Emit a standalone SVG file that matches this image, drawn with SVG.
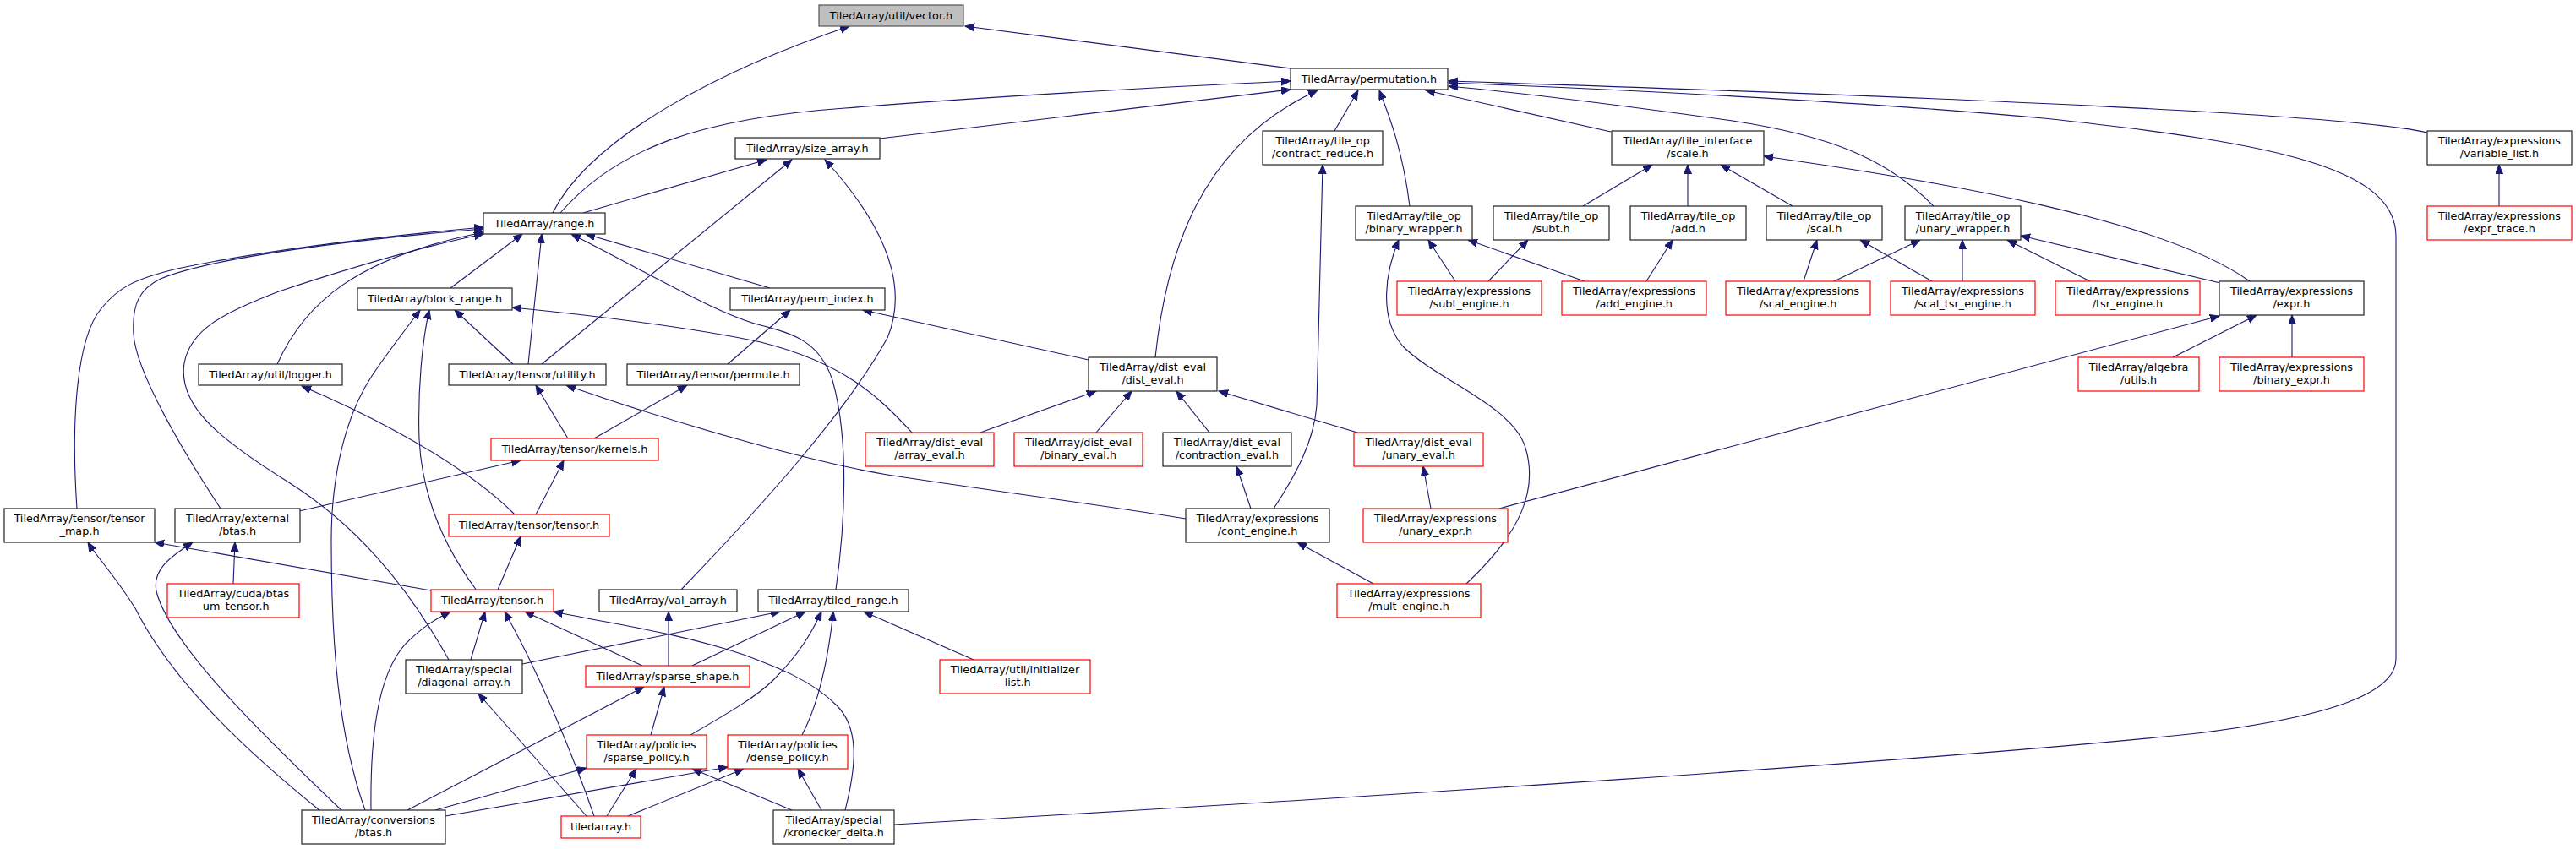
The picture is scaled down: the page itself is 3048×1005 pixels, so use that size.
<svg xmlns="http://www.w3.org/2000/svg" width="3048" height="1005" viewBox="0 0 3048 1005">
<style>
.n rect{fill:#fff;stroke:#222;stroke-width:1.2}
.n.r rect{stroke:#ff0000}
.n.g rect{fill:#bfbfbf;stroke:#555}
.n text{font-family:"DejaVu Sans",sans-serif;font-size:12.8px;fill:#000;text-anchor:middle}
.e path{fill:none;stroke:#191970;stroke-width:1.1;marker-end:url(#ah)}
</style>
<defs>
<marker id="ah" viewBox="0 0 12 10" markerWidth="12" markerHeight="10" refX="11" refY="4.5" orient="auto" markerUnits="userSpaceOnUse"><path d="M0,0 L11,4.5 L0,9 z" fill="#191970" stroke="#191970" stroke-width="1"/></marker>
</defs>
<rect width="3048" height="1005" fill="#fff"/>
<g id="edges" class="e">
<path d="M654,252 C700,160 860,80 1005,31"/>
<path d="M1527,81 L1142,31"/>
<path d="M663,252 C730,175 830,140 1000,128 C1200,112 1400,102 1527,96"/>
<path d="M1041,164 L1527,106"/>
<path d="M690,252 L907,189"/>
<path d="M1367,423 C1380,300 1420,170 1559,107"/>
<path d="M1579,155 L1607,107"/>
<path d="M1668,244 C1660,180 1645,140 1632,107"/>
<path d="M1906,156 L1687,107"/>
<path d="M2288,244 C2230,185 2160,160 2050,143 C1900,122 1800,110 1714,102"/>
<path d="M2872,157 C2780,135 2300,115 1714,96"/>
<path d="M1058,976 C1600,945 2300,900 2600,868 C2760,848 2835,820 2835,780 L2835,280 C2835,200 2700,170 2418,140 C2200,120 1900,105 1714,98"/>
<path d="M2957,244 L2957,195"/>
<path d="M1873,244 L1955,195"/>
<path d="M1997,244 L1997,195"/>
<path d="M2121,244 L2036,195"/>
<path d="M2662,333 C2560,260 2300,215 2087,185"/>
<path d="M1722,333 L1690,284"/>
<path d="M1761,333 L1808,284"/>
<path d="M1875,333 L1737,284"/>
<path d="M1948,333 L1979,284"/>
<path d="M1735,691 C1800,630 1820,580 1805,530 C1790,480 1700,450 1660,410 C1630,375 1640,320 1655,284"/>
<path d="M2170,333 L2272,284"/>
<path d="M2134,333 L2150,284"/>
<path d="M2286,333 L2201,284"/>
<path d="M2322,333 L2322,284"/>
<path d="M2473,333 L2375,284"/>
<path d="M2627,335 L2391,279"/>
<path d="M2571,423 L2670,373"/>
<path d="M2712,423 L2712,373"/>
<path d="M1774,602 L2626,374"/>
<path d="M1507,602 C1535,560 1555,520 1558,480 L1565,195"/>
<path d="M1480,602 L1463,552"/>
<path d="M1625,691 L1535,642"/>
<path d="M1160,512 L1297,463"/>
<path d="M1297,512 L1339,463"/>
<path d="M1431,512 L1392,463"/>
<path d="M1606,512 L1442,463"/>
<path d="M1693,602 L1684,552"/>
<path d="M1288,426 L1021,367"/>
<path d="M861,431 L935,367"/>
<path d="M911,341 L693,277"/>
<path d="M533,341 L618,277"/>
<path d="M625,431 L641,277"/>
<path d="M989,698 C1000,620 1005,520 985,450 C970,405 940,395 900,385 C850,372 780,330 676,277"/>
<path d="M328,431 C360,360 420,305 572,275"/>
<path d="M91,602 C84,500 90,400 120,365 C140,340 160,330 210,318 C320,295 450,280 572,269"/>
<path d="M261,602 C220,540 160,440 158,395 C156,360 165,342 190,330 C250,305 420,283 572,271"/>
<path d="M531,781 C480,690 420,620 340,570 C260,520 210,480 218,430 C225,390 265,370 330,345 C420,315 500,292 572,277"/>
<path d="M641,431 L937,189"/>
<path d="M806,698 C900,600 1000,490 1050,400 C1075,340 1050,270 976,189"/>
<path d="M607,431 L538,367"/>
<path d="M564,699 C535,660 500,600 496,520 C494,460 500,400 508,367"/>
<path d="M432,959 C400,870 392,760 392,640 C392,560 410,490 440,445 C460,415 480,390 497,367"/>
<path d="M1080,513 C1040,470 1000,430 900,405 C820,388 700,373 606,364"/>
<path d="M672,519 L634,456"/>
<path d="M703,519 L813,456"/>
<path d="M1403,614 C1300,597 1200,585 1050,562 C950,545 780,495 670,456"/>
<path d="M634,609 L667,545"/>
<path d="M354,605 L616,545"/>
<path d="M609,609 C560,560 470,505 357,457"/>
<path d="M589,698 L616,635"/>
<path d="M510,699 L183,642"/>
<path d="M404,959 C300,860 200,760 185,700 C180,675 200,660 228,642"/>
<path d="M378,959 C280,880 200,800 160,720 C135,680 115,660 104,642"/>
<path d="M276,691 L278,642"/>
<path d="M439,959 C438,880 445,800 480,762 C500,742 515,733 533,724"/>
<path d="M557,781 L574,724"/>
<path d="M703,966 C680,900 640,800 597,724"/>
<path d="M760,788 L621,724"/>
<path d="M1000,959 C1015,900 1015,860 990,835 C960,805 920,790 880,775 C800,748 720,738 655,724"/>
<path d="M694,966 L566,821"/>
<path d="M718,966 L753,910"/>
<path d="M743,966 L880,910"/>
<path d="M482,959 L762,813"/>
<path d="M515,959 L694,909"/>
<path d="M527,966 L861,908"/>
<path d="M937,959 L819,910"/>
<path d="M972,959 L944,910"/>
<path d="M770,870 L786,813"/>
<path d="M791,788 L791,724"/>
<path d="M819,788 L953,724"/>
<path d="M618,786 L923,724"/>
<path d="M817,870 C860,845 895,825 915,805 C945,775 960,750 972,724"/>
<path d="M949,870 C970,830 980,780 986,724"/>
<path d="M1152,781 L1022,724"/>
</g>
<g id="vector" class="n g"><rect x="969" y="6" width="171" height="25"/><text x="1054.5" y="23">TiledArray/util/vector.h</text></g>
<g id="permutation" class="n"><rect x="1527" y="81" width="186" height="25"/><text x="1620" y="98">TiledArray/permutation.h</text></g>
<g id="size_array" class="n"><rect x="870" y="163" width="171" height="25"/><text x="955.5" y="180">TiledArray/size_array.h</text></g>
<g id="range" class="n"><rect x="572" y="252" width="144" height="25"/><text x="644" y="269">TiledArray/range.h</text></g>
<g id="block_range" class="n"><rect x="423" y="341" width="183" height="26"/><text x="514.5" y="358">TiledArray/block_range.h</text></g>
<g id="perm_index" class="n"><rect x="864" y="341" width="183" height="26"/><text x="955.5" y="358">TiledArray/perm_index.h</text></g>
<g id="logger" class="n"><rect x="235" y="431" width="170" height="25"/><text x="320" y="448">TiledArray/util/logger.h</text></g>
<g id="utility" class="n"><rect x="531" y="431" width="186" height="25"/><text x="624" y="448">TiledArray/tensor/utility.h</text></g>
<g id="permute" class="n"><rect x="742" y="431" width="204" height="25"/><text x="844" y="448">TiledArray/tensor/permute.h</text></g>
<g id="kernels" class="n r"><rect x="581" y="519" width="198" height="26"/><text x="680" y="536">TiledArray/tensor/kernels.h</text></g>
<g id="tensor_tensor" class="n r"><rect x="531" y="609" width="190" height="26"/><text x="626" y="626">TiledArray/tensor/tensor.h</text></g>
<g id="tensor" class="n r"><rect x="510" y="698" width="145" height="26"/><text x="582.5" y="715">TiledArray/tensor.h</text></g>
<g id="val_array" class="n"><rect x="709" y="698" width="163" height="26"/><text x="790.5" y="715">TiledArray/val_array.h</text></g>
<g id="tiled_range" class="n"><rect x="897" y="698" width="178" height="26"/><text x="986" y="715">TiledArray/tiled_range.h</text></g>
<g id="sparse_shape" class="n r"><rect x="693" y="788" width="194" height="25"/><text x="790" y="805">TiledArray/sparse_shape.h</text></g>
<g id="tiledarray" class="n r"><rect x="664" y="966" width="94" height="26"/><text x="711" y="983">tiledarray.h</text></g>
<g id="contract_reduce" class="n"><rect x="1494" y="155" width="142" height="40"/><text x="1565" y="171">TiledArray/tile_op</text><text x="1565" y="186">/contract_reduce.h</text></g>
<g id="scale" class="n"><rect x="1907" y="155" width="180" height="40"/><text x="1997" y="171">TiledArray/tile_interface</text><text x="1997" y="186">/scale.h</text></g>
<g id="variable_list" class="n"><rect x="2872" y="155" width="171" height="40"/><text x="2957.5" y="171">TiledArray/expressions</text><text x="2957.5" y="186">/variable_list.h</text></g>
<g id="binary_wrapper" class="n"><rect x="1604" y="244" width="138" height="40"/><text x="1673" y="260">TiledArray/tile_op</text><text x="1673" y="275">/binary_wrapper.h</text></g>
<g id="subt" class="n"><rect x="1767" y="244" width="137" height="40"/><text x="1835.5" y="260">TiledArray/tile_op</text><text x="1835.5" y="275">/subt.h</text></g>
<g id="add" class="n"><rect x="1929" y="244" width="137" height="40"/><text x="1997.5" y="260">TiledArray/tile_op</text><text x="1997.5" y="275">/add.h</text></g>
<g id="scal" class="n"><rect x="2090" y="244" width="137" height="40"/><text x="2158.5" y="260">TiledArray/tile_op</text><text x="2158.5" y="275">/scal.h</text></g>
<g id="unary_wrapper" class="n"><rect x="2254" y="244" width="137" height="40"/><text x="2322.5" y="260">TiledArray/tile_op</text><text x="2322.5" y="275">/unary_wrapper.h</text></g>
<g id="expr_trace" class="n r"><rect x="2872" y="244" width="171" height="40"/><text x="2957.5" y="260">TiledArray/expressions</text><text x="2957.5" y="275">/expr_trace.h</text></g>
<g id="subt_engine" class="n r"><rect x="1653" y="333" width="171" height="40"/><text x="1738.5" y="349">TiledArray/expressions</text><text x="1738.5" y="364">/subt_engine.h</text></g>
<g id="add_engine" class="n r"><rect x="1848" y="333" width="171" height="40"/><text x="1933.5" y="349">TiledArray/expressions</text><text x="1933.5" y="364">/add_engine.h</text></g>
<g id="scal_engine" class="n r"><rect x="2042" y="333" width="171" height="40"/><text x="2127.5" y="349">TiledArray/expressions</text><text x="2127.5" y="364">/scal_engine.h</text></g>
<g id="scal_tsr_engine" class="n r"><rect x="2237" y="333" width="171" height="40"/><text x="2322.5" y="349">TiledArray/expressions</text><text x="2322.5" y="364">/scal_tsr_engine.h</text></g>
<g id="tsr_engine" class="n r"><rect x="2432" y="333" width="171" height="40"/><text x="2517.5" y="349">TiledArray/expressions</text><text x="2517.5" y="364">/tsr_engine.h</text></g>
<g id="expr" class="n"><rect x="2626" y="333" width="171" height="40"/><text x="2711.5" y="349">TiledArray/expressions</text><text x="2711.5" y="364">/expr.h</text></g>
<g id="dist_eval" class="n"><rect x="1288" y="423" width="152" height="40"/><text x="1364" y="439">TiledArray/dist_eval</text><text x="1364" y="454">/dist_eval.h</text></g>
<g id="algebra_utils" class="n r"><rect x="2459" y="423" width="143" height="40"/><text x="2530.5" y="439">TiledArray/algebra</text><text x="2530.5" y="454">/utils.h</text></g>
<g id="binary_expr" class="n r"><rect x="2626" y="423" width="171" height="40"/><text x="2711.5" y="439">TiledArray/expressions</text><text x="2711.5" y="454">/binary_expr.h</text></g>
<g id="array_eval" class="n r"><rect x="1024" y="512" width="152" height="40"/><text x="1100" y="528">TiledArray/dist_eval</text><text x="1100" y="543">/array_eval.h</text></g>
<g id="binary_eval" class="n r"><rect x="1200" y="512" width="152" height="40"/><text x="1276" y="528">TiledArray/dist_eval</text><text x="1276" y="543">/binary_eval.h</text></g>
<g id="contraction_eval" class="n"><rect x="1376" y="512" width="152" height="40"/><text x="1452" y="528">TiledArray/dist_eval</text><text x="1452" y="543">/contraction_eval.h</text></g>
<g id="unary_eval" class="n r"><rect x="1602" y="512" width="153" height="40"/><text x="1678.5" y="528">TiledArray/dist_eval</text><text x="1678.5" y="543">/unary_eval.h</text></g>
<g id="tensor_map" class="n"><rect x="5" y="602" width="178" height="40"/><text x="94" y="618">TiledArray/tensor/tensor</text><text x="94" y="633">_map.h</text></g>
<g id="external_btas" class="n"><rect x="207" y="602" width="148" height="40"/><text x="281" y="618">TiledArray/external</text><text x="281" y="633">/btas.h</text></g>
<g id="cont_engine" class="n"><rect x="1403" y="602" width="170" height="40"/><text x="1488" y="618">TiledArray/expressions</text><text x="1488" y="633">/cont_engine.h</text></g>
<g id="unary_expr" class="n r"><rect x="1613" y="602" width="171" height="40"/><text x="1698.5" y="618">TiledArray/expressions</text><text x="1698.5" y="633">/unary_expr.h</text></g>
<g id="cuda_btas" class="n r"><rect x="198" y="691" width="156" height="40"/><text x="276" y="707">TiledArray/cuda/btas</text><text x="276" y="722">_um_tensor.h</text></g>
<g id="mult_engine" class="n r"><rect x="1582" y="691" width="170" height="40"/><text x="1667" y="707">TiledArray/expressions</text><text x="1667" y="722">/mult_engine.h</text></g>
<g id="diagonal_array" class="n"><rect x="480" y="781" width="138" height="40"/><text x="549" y="797">TiledArray/special</text><text x="549" y="812">/diagonal_array.h</text></g>
<g id="initializer_list" class="n r"><rect x="1112" y="781" width="178" height="40"/><text x="1201" y="797">TiledArray/util/initializer</text><text x="1201" y="812">_list.h</text></g>
<g id="sparse_policy" class="n r"><rect x="694" y="870" width="142" height="40"/><text x="765" y="886">TiledArray/policies</text><text x="765" y="901">/sparse_policy.h</text></g>
<g id="dense_policy" class="n r"><rect x="861" y="870" width="142" height="40"/><text x="932" y="886">TiledArray/policies</text><text x="932" y="901">/dense_policy.h</text></g>
<g id="conversions_btas" class="n"><rect x="357" y="959" width="170" height="40"/><text x="442" y="975">TiledArray/conversions</text><text x="442" y="990">/btas.h</text></g>
<g id="kronecker_delta" class="n"><rect x="915" y="959" width="143" height="40"/><text x="986.5" y="975">TiledArray/special</text><text x="986.5" y="990">/kronecker_delta.h</text></g>
</svg>
